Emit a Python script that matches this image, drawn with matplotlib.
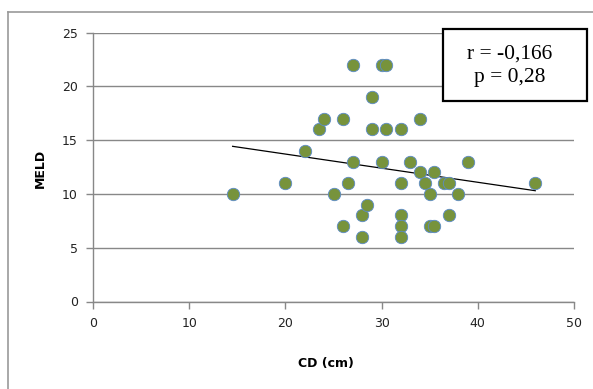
import matplotlib
matplotlib.use("Agg")
import matplotlib.pyplot as plt
from matplotlib.lines import Line2D
import numpy as np

# CD (cm) vs MELD score, one point per patient
cd = [14.5, 20, 22, 23.5, 24, 25, 26, 26, 26.5, 27, 27, 28, 28, 28.5, 29, 29,
      30, 30.5, 30, 30.5, 32, 32, 32, 32, 32, 33, 34, 34, 34.5, 35, 35, 35.5,
      35.5, 36.5, 37, 37, 38, 39, 46]
meld = [10, 11, 14, 16, 17, 10, 17, 7, 11, 13, 22, 8, 6, 9, 19, 16,
        22, 22, 13, 16, 16, 11, 8, 7, 6, 13, 17, 12, 11, 10, 7, 7,
        12, 11, 11, 8, 10, 13, 11]
x_ticks = [0, 10, 20, 30, 40, 50]
y_ticks = [0, 5, 10, 15, 20, 25]
stats_text = "r = -0,166\np = 0,28"

W, H = 593, 389
fig = plt.figure(figsize=(W / 100, H / 100), dpi=100)
ax = fig.add_axes([93.3 / W, 1 - 301.5 / H, (573.7 - 93.3) / W, (301.5 - 32.5) / H])

grey = "#888888"
ax.set_xlim(0, 50)
ax.set_ylim(0, 25)
ax.set_xticks(x_ticks)
ax.set_yticks(y_ticks)
ax.yaxis.grid(True, color=grey, linewidth=1)
ax.set_axisbelow(True)
for s in ["top", "right"]:
    ax.spines[s].set_visible(False)
for s in ["left", "bottom"]:
    ax.spines[s].set_color(grey)
    ax.spines[s].set_linewidth(1)
ax.tick_params(axis="both", direction="out", length=5, width=1, color=grey,
               labelsize=9, labelcolor="#222222", pad=6)

# linear trendline
k, b = np.polyfit(cd, meld, 1)
xs = np.array([min(cd), max(cd)])
ax.plot(xs, k * xs + b, color="black", linewidth=0.9, zorder=2)

ax.scatter(cd, meld, s=80, color="#77933C", edgecolors="#5B8BC9",
           linewidths=0.6, zorder=3, clip_on=False)

fig.text(40 / W, 1 - 168 / H, "MELD", rotation=90, ha="center", va="center",
         fontsize=9, fontweight="bold")
fig.text(326 / W, 1 - 364 / H, "CD (cm)", ha="center", va="center",
         fontsize=9, fontweight="bold")

# correlation box
box = plt.Rectangle((442.5 / W, 1 - 100.5 / H), 144 / W, 71.5 / H,
                    transform=fig.transFigure, fc="white", ec="black", lw=1.6,
                    zorder=2)
fig.patches.append(box)
fig.text(510 / W, 1 - 66 / H, stats_text, ha="center", va="center",
         fontsize=15.5, family="Liberation Serif", linespacing=1.3,
         multialignment="center", zorder=3)

# chart frame (left and top edges)
fig.lines.append(Line2D([8 / W, 8 / W], [0, 1 - 12 / H], transform=fig.transFigure,
                        color="#999999", lw=1.2))
fig.lines.append(Line2D([8 / W, 1], [1 - 12 / H, 1 - 12 / H], transform=fig.transFigure,
                        color="#999999", lw=1.2))

fig.savefig("out.png", dpi=100)
